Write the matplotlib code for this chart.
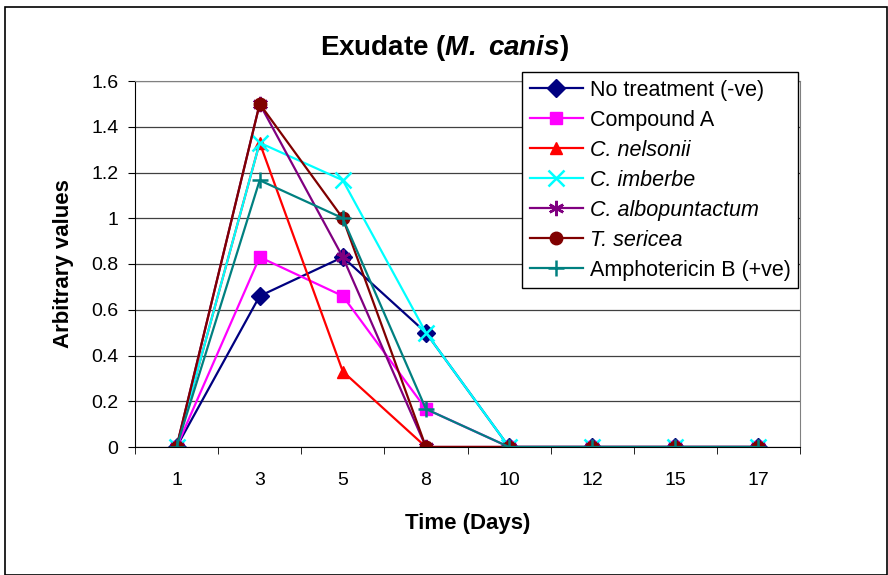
import numpy as np
import matplotlib
matplotlib.use("Agg")
import matplotlib.pyplot as plt
from matplotlib.patches import Rectangle

plt.rcParams["font.family"] = ["Liberation Sans", "DejaVu Sans"]
plt.rcParams["mathtext.fontset"] = "custom"
plt.rcParams["mathtext.bfit"] = "Liberation Sans:italic:bold"
plt.rcParams["mathtext.it"] = "Liberation Sans:italic"
plt.rcParams["mathtext.rm"] = "Liberation Sans"

days = ["1", "3", "5", "8", "10", "12", "15", "17"]
no_treatment = [0, 0.66, 0.83, 0.5, 0, 0, 0, 0]
compound_a = [0, 0.83, 0.66, 0.166, 0, 0, 0, 0]
c_nelsonii = [0, 1.33, 0.33, 0, 0, 0, 0, 0]
c_imberbe = [0, 1.33, 1.166, 0.5, 0, 0, 0, 0]
c_albopuntactum = [0, 1.5, 0.83, 0, 0, 0, 0, 0]
t_sericea = [0, 1.5, 1.0, 0, 0, 0, 0, 0]
amphotericin_b = [0, 1.166, 1.0, 0.166, 0, 0, 0, 0]

series = [
    ("No treatment (-ve)", no_treatment, "#000080", "D", False),
    ("Compound A", compound_a, "#FF00FF", "s", False),
    ("C. nelsonii", c_nelsonii, "#FF0000", "^", True),
    ("C. imberbe", c_imberbe, "#00FFFF", "x", True),
    ("C. albopuntactum", c_albopuntactum, "#800080", (6, 2, 0), True),
    ("T. sericea", t_sericea, "#800000", "o", True),
    ("Amphotericin B (+ve)", amphotericin_b, "#008080", "+", False),
]

fig = plt.figure(figsize=(8.88, 5.75), dpi=100)
ax = fig.add_axes([135 / 888, 1 - 447 / 575, 665 / 888, 366 / 575])

x = np.arange(len(days))
for label, vals, color, marker, italic in series:
    thin = marker in ("x", "+", (6, 2, 0))
    ax.plot(x, vals, color=color, marker=marker, markersize=11 if thin else 9,
            lw=1.6, markeredgewidth=1.8 if thin else 1, label=label)

ax.set_xlim(-0.5, len(days) - 0.5)
ax.set_ylim(0, 1.6)
ax.set_yticks(np.arange(0, 1.61, 0.2))
ax.set_yticklabels(["0", "0.2", "0.4", "0.6", "0.8", "1", "1.2", "1.4", "1.6"])
ax.set_xticks(x)
ax.set_xticklabels(days)
ax.set_xticks(np.arange(-0.5, len(days), 1), minor=True)
ax.tick_params(axis="x", which="major", length=0, labelsize=14, pad=18)
ax.tick_params(axis="x", which="minor", length=5, direction="out", color="black")
ax.tick_params(axis="y", labelsize=14, length=5, direction="out", pad=7)
ax.yaxis.grid(True, color="#404040", lw=0.9)
ax.set_axisbelow(True)
for s in ("top", "right"):
    ax.spines[s].set_color("#808080")
ax.spines["left"].set_color("black")
ax.spines["bottom"].set_color("black")

ax.set_xlabel("Time (Days)", fontsize=16, fontweight="bold", labelpad=17)
ax.set_ylabel("Arbitrary values", fontsize=16, fontweight="bold", labelpad=12)
fig.text(0.5, 1 - 48 / 575, r"Exudate ($\mathbfit{M.}$ $\mathbfit{canis}$)",
         ha="center", va="center", fontsize=20, fontweight="bold")

leg = fig.legend(loc="upper left", bbox_to_anchor=(522 / 888, 1 - 72 / 575),
                 bbox_transform=fig.transFigure, fontsize=15.5, frameon=True,
                 fancybox=False, edgecolor="black", framealpha=1,
                 labelspacing=0.42, handlelength=2.5, borderpad=0.35,
                 handletextpad=0.3, borderaxespad=0)
leg.get_frame().set_linewidth(1)
for txt, (_, _, _, _, italic) in zip(leg.get_texts(), series):
    if italic:
        txt.set_fontstyle("italic")

fig.patches.append(Rectangle((5 / 888, 0), 882 / 888, 1 - 7 / 575,
                             transform=fig.transFigure, fill=False,
                             edgecolor="black", lw=1.2))

fig.savefig("out.png", dpi=100)
